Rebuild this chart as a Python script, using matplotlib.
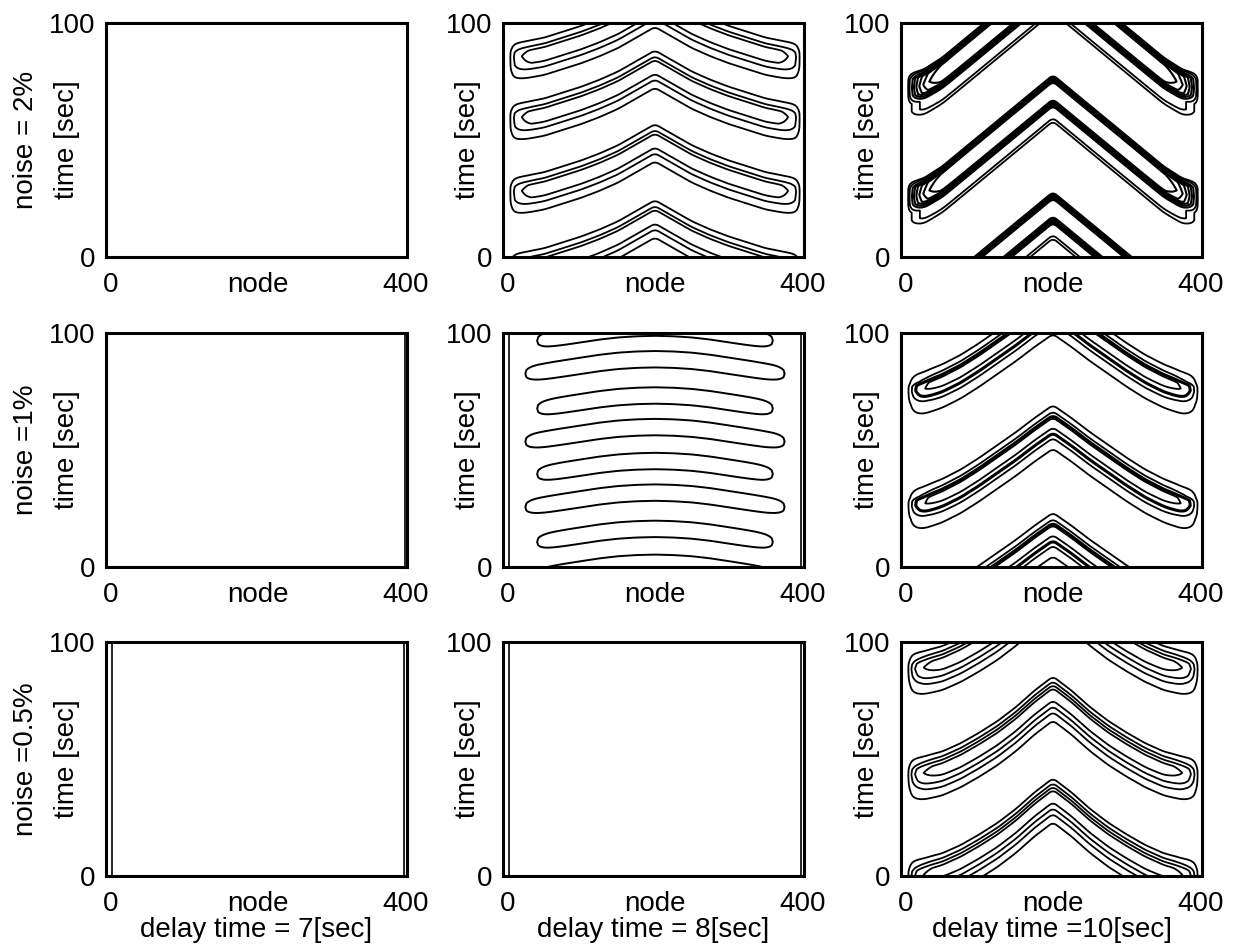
import numpy as np
import matplotlib.pyplot as plt

plt.rcParams['font.family'] = ['Liberation Sans', 'DejaVu Sans']
plt.rcParams['font.size'] = 20

# labels
row_labels = ['noise = 2%', 'noise =1%', 'noise =0.5%']
col_labels = ['delay time = 7[sec]', 'delay time = 8[sec]', 'delay time =10[sec]']
x_ticks = [0, 200, 400]
x_ticklabels = ['0', 'node', '400']
y_ticks = [0, 100]
y_ticklabels = ['0', '100']

# lag of the wave behind node 200 [sec], read at these distances from node 200
lag_dist = [0, 25, 50, 75, 100, 125, 150, 175, 200]

# delay 8 s, noise 2 %  (band centre at node 200, sec)
d8n2_times = [106, 80, 48.5, 16]
d8n2_lag = [0, 4.5, 9, 12.5, 15.5, 18, 20.5, 22, 23]
d8n2_edge = [2.5, 2.5, 2.5, 2.5]
d8n2_decay = 9
d8n2_prof_u = [-10, -8, -4.5, -1.5, 2, 4, 6, 8.5, 10]
d8n2_prof_f = [0, 0.12, 0.45, 0.88, 1.0, 0.9, 0.45, 0.12, 0]
d8n2_levels = [0.15, 0.5, 0.85]
d8n2_widths = [1.3, 1.3, 1.3]

# delay 10 s, noise 2 %  (front top at node 200)
d10n2_times = [123, 76.5, 26.5]
d10n2_lag = [0, 6.5, 13, 19.5, 26, 32.5, 39, 44, 46]
d10n2_edge = [2, 2, 2]
d10n2_decay = 16
d10n2_prof_u = [-20, -15.5, -12.2, -8.8, -5.5, -1.7, 1.7]
d10n2_prof_f = [0, 0.3, 0.3, 0.9, 1.0, 0.9, 0]
d10n2_levels = [0.1, 0.2, 0.35, 0.45, 0.55, 0.65, 0.75, 0.85]
d10n2_widths = [1.3, 1.3, 1.5, 1.5, 1.5, 1.5, 1.5, 1.5]

# delay 8 s, noise 1 %
d8n1_times = [102.3, 88.8, 73.3, 59.8, 45.3, 31.8, 16.3, 1.8]
d8n1_lag = [0, 0.2, 0.7, 1.6, 2.8, 4.0, 5.2, 6.2, 6.8]
d8n1_edge = [32, 16, 32, 16, 32, 16, 32, 28]
d8n1_decay = 12
d8n1_prof_u = [-7.5, -5.5, -3.5, -1.5, 0, 1.5, 3.5, 5.5, 7.5]
d8n1_prof_f = [0, 0.18, 0.5, 0.9, 1.0, 0.9, 0.5, 0.18, 0]
d8n1_levels = [0.5]
d8n1_widths = [1.4]

# delay 10 s, noise 1 %
d10n1_times = [108, 59, 13]
d10n1_lag = [0, 5.5, 11.5, 17, 22.5, 27.5, 31.5, 34.5, 36]
d10n1_edge = [2, 2, 2]
d10n1_decay = 13
d10n1_prof_u = [-11, -9, -3, 0, 2.5, 4.5, 6, 8, 10.5, 11.5]
d10n1_prof_f = [0, 0.12, 0.45, 0.8, 1.0, 0.95, 0.55, 0.35, 0.12, 0]
d10n1_levels = [0.15, 0.4, 0.6, 0.85]
d10n1_widths = [1.3, 1.3, 2.2, 1.3]

# delay 10 s, noise 0.5 %
d10n05_times = [122, 77, 33.5]
d10n05_lag = [0, 6, 13, 19, 24, 28.5, 32, 34, 35]
d10n05_edge = [2, 2, 2]
d10n05_decay = 12
d10n05_prof_u = [-13, -11, -5.5, -2, 1, 3, 5, 8.5, 9.5]
d10n05_prof_f = [0, 0.12, 0.5, 0.85, 1.0, 0.9, 0.55, 0.12, 0]
d10n05_levels = [0.15, 0.4, 0.6, 0.85]
d10n05_widths = [1.3, 1.3, 1.3, 1.3]

# contour lines that hug the left / right border (node)
d7n2_border = []
d7n1_border = [399]
d7n05_border = [1.5, 398.5]
d8n05_border = [1.5, 398.5]
d8n1_border = [2, 398]

nodes = np.arange(-6, 402.01, 0.5)
secs = np.arange(0, 100.01, 0.1)


def smooth(y, n):
    pad = np.pad(y, n // 2, mode='edge')
    return np.convolve(pad, np.ones(n) / n, mode='valid')[:len(y)]


def wave_field(times, lag, edge, decay, prof_u, prof_f):
    dist = np.minimum(nodes, 400 - nodes)
    lag_x = smooth(np.interp(np.abs(nodes - 200), lag_dist, lag), 21)
    z = np.zeros((secs.size, nodes.size))
    for t0, e0 in zip(times, edge):
        env = 1 - np.exp(-np.clip(dist - e0, 0, None) / decay)
        u = secs[:, None] - t0 + lag_x[None, :]
        z += env[None, :] * np.interp(u, prof_u, prof_f)
    return z


def wave(times, lag, edge, decay, pu, pf, levels, widths, border=()):
    return dict(times=times, lag=lag, edge=edge, decay=decay, pu=pu, pf=pf,
                levels=levels, widths=widths, border=list(border))


def empty(border):
    return dict(times=[], border=border)


panels = [
    [empty(d7n2_border),
     wave(d8n2_times, d8n2_lag, d8n2_edge, d8n2_decay, d8n2_prof_u, d8n2_prof_f,
          d8n2_levels, d8n2_widths),
     wave(d10n2_times, d10n2_lag, d10n2_edge, d10n2_decay, d10n2_prof_u, d10n2_prof_f,
          d10n2_levels, d10n2_widths)],
    [empty(d7n1_border),
     wave(d8n1_times, d8n1_lag, d8n1_edge, d8n1_decay, d8n1_prof_u, d8n1_prof_f,
          d8n1_levels, d8n1_widths, d8n1_border),
     wave(d10n1_times, d10n1_lag, d10n1_edge, d10n1_decay, d10n1_prof_u, d10n1_prof_f,
          d10n1_levels, d10n1_widths)],
    [empty(d7n05_border),
     empty(d8n05_border),
     wave(d10n05_times, d10n05_lag, d10n05_edge, d10n05_decay, d10n05_prof_u,
          d10n05_prof_f, d10n05_levels, d10n05_widths)],
]

fig = plt.figure(figsize=(12.4, 9.5), dpi=100)

col_left = [106, 503, 901]
row_top = [23, 333, 642]
ax_w, ax_h = 301, 234
ylab_x = [-0.13, -0.116, -0.114]

for r in range(3):
    for c in range(3):
        ax = fig.add_axes([col_left[c] / 1240, 1 - (row_top[r] + ax_h) / 950,
                           ax_w / 1240, ax_h / 950])
        p = panels[r][c]
        if p['times']:
            z = wave_field(p['times'], p['lag'], p['edge'], p['decay'], p['pu'], p['pf'])
            ax.contour(nodes, secs, z, levels=p['levels'], colors='k',
                       linewidths=p['widths'])
        for xv in p['border']:
            ax.axvline(xv, color='k', lw=1.2)

        ax.set_xlim(-6, 402)
        ax.set_ylim(0, 100)
        ax.set_xticks(x_ticks)
        ax.set_xticklabels(x_ticklabels)
        ax.set_yticks(y_ticks)
        ax.set_yticklabels(y_ticklabels)
        ax.tick_params(axis='x', length=0, pad=11, labelsize=20)
        ax.tick_params(axis='y', length=0, pad=8, labelsize=20)
        for sp in ax.spines.values():
            sp.set_linewidth(2.2)

        ax.text(ylab_x[c], 0.5, 'time [sec]', rotation=90, ha='center', va='center',
                transform=ax.transAxes, fontsize=20)
        if c == 0:
            ax.text(-0.265, 0.5, row_labels[r], rotation=90, ha='center', va='center',
                    transform=ax.transAxes, fontsize=20)
        if r == 2:
            ax.text(0.5, -0.231, col_labels[c], ha='center', va='center',
                    transform=ax.transAxes, fontsize=20)

fig.savefig('out.png', dpi=100)
